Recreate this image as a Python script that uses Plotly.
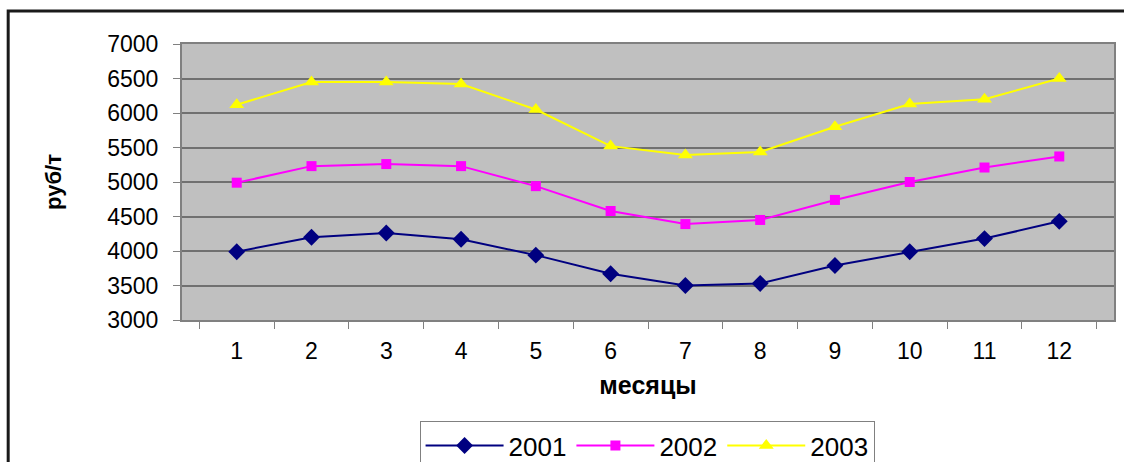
import plotly.graph_objects as go

months = [1, 2, 3, 4, 5, 6, 7, 8, 9, 10, 11, 12]
month_labels = ["1", "2", "3", "4", "5", "6", "7", "8", "9", "10", "11", "12"]
series_names = ["2001", "2002", "2003"]
values_2001 = [3990, 4200, 4260, 4170, 3940, 3670, 3500, 3530, 3790, 3990, 4180, 4430]
values_2002 = [4990, 5230, 5260, 5230, 4940, 4580, 4390, 4450, 4740, 5000, 5210, 5370]
values_2003 = [6120, 6450, 6450, 6420, 6050, 5520, 5390, 5435, 5800, 6130, 6200, 6500]
y_ticks = [3000, 3500, 4000, 4500, 5000, 5500, 6000, 6500, 7000]

styles = [
    dict(color="#000080", symbol="diamond", size=13),
    dict(color="#FF00FF", symbol="square", size=10),
    dict(color="#FFFF00", symbol="triangle-up", size=13),
]

fig = go.Figure()
for name, vals, st in zip(series_names, [values_2001, values_2002, values_2003], styles):
    fig.add_trace(go.Scatter(
        x=month_labels, y=vals, name=name, mode="lines+markers",
        line=dict(color=st["color"], width=2),
        marker=dict(color=st["color"], symbol=st["symbol"], size=st["size"]),
    ))

font_family = "Liberation Sans, Arial, sans-serif"

fig.update_layout(
    width=1124, height=462,
    margin=dict(l=182, r=10, t=44, b=142, autoexpand=False),
    paper_bgcolor="white",
    plot_bgcolor="#C0C0C0",
    font=dict(family=font_family, color="black", size=23),
    showlegend=True,
    legend=dict(
        orientation="h", x=0.499, xanchor="center", y=-0.455, yanchor="middle",
        bordercolor="#808080", borderwidth=1, bgcolor="white",
        font=dict(size=26), itemwidth=78,
    ),
    xaxis=dict(
        type="category", tickvals=month_labels, ticktext=month_labels,
        showgrid=False, showline=True, linecolor="#808080", linewidth=2, mirror=True,
        ticks="outside", tickson="boundaries", ticklen=7, tickcolor="#808080",
        tickfont=dict(size=23), ticklabelstandoff=9, automargin=False,
        title=dict(text="<b>месяцы</b>", font=dict(size=25), standoff=14),
    ),
    yaxis=dict(
        range=[3000, 7000], tickvals=y_ticks,
        showgrid=True, gridcolor="#707070", gridwidth=1.5,
        showline=True, linecolor="#808080", linewidth=2, mirror=True,
        ticks="outside", ticklen=7, tickcolor="#808080",
        tickfont=dict(size=23), ticklabelstandoff=10, automargin=False,
        title=dict(text="<b>руб/т</b>", font=dict(size=22), standoff=40),
        zeroline=False,
    ),
    shapes=[
        dict(type="rect", xref="paper", yref="paper",
             x0=(8 - 182) / 933, x1=(1140 - 182) / 933,
             y0=(320 - 480) / 276, y1=(320 - 11) / 276,
             line=dict(color="#1a1a1a", width=3), fillcolor="rgba(0,0,0,0)", layer="below"),
    ],
)

fig.write_html(
    "out.html",
    config={"displayModeBar": False},
    post_script="document.body.style.margin='0';document.body.style.overflow='hidden';",
)
